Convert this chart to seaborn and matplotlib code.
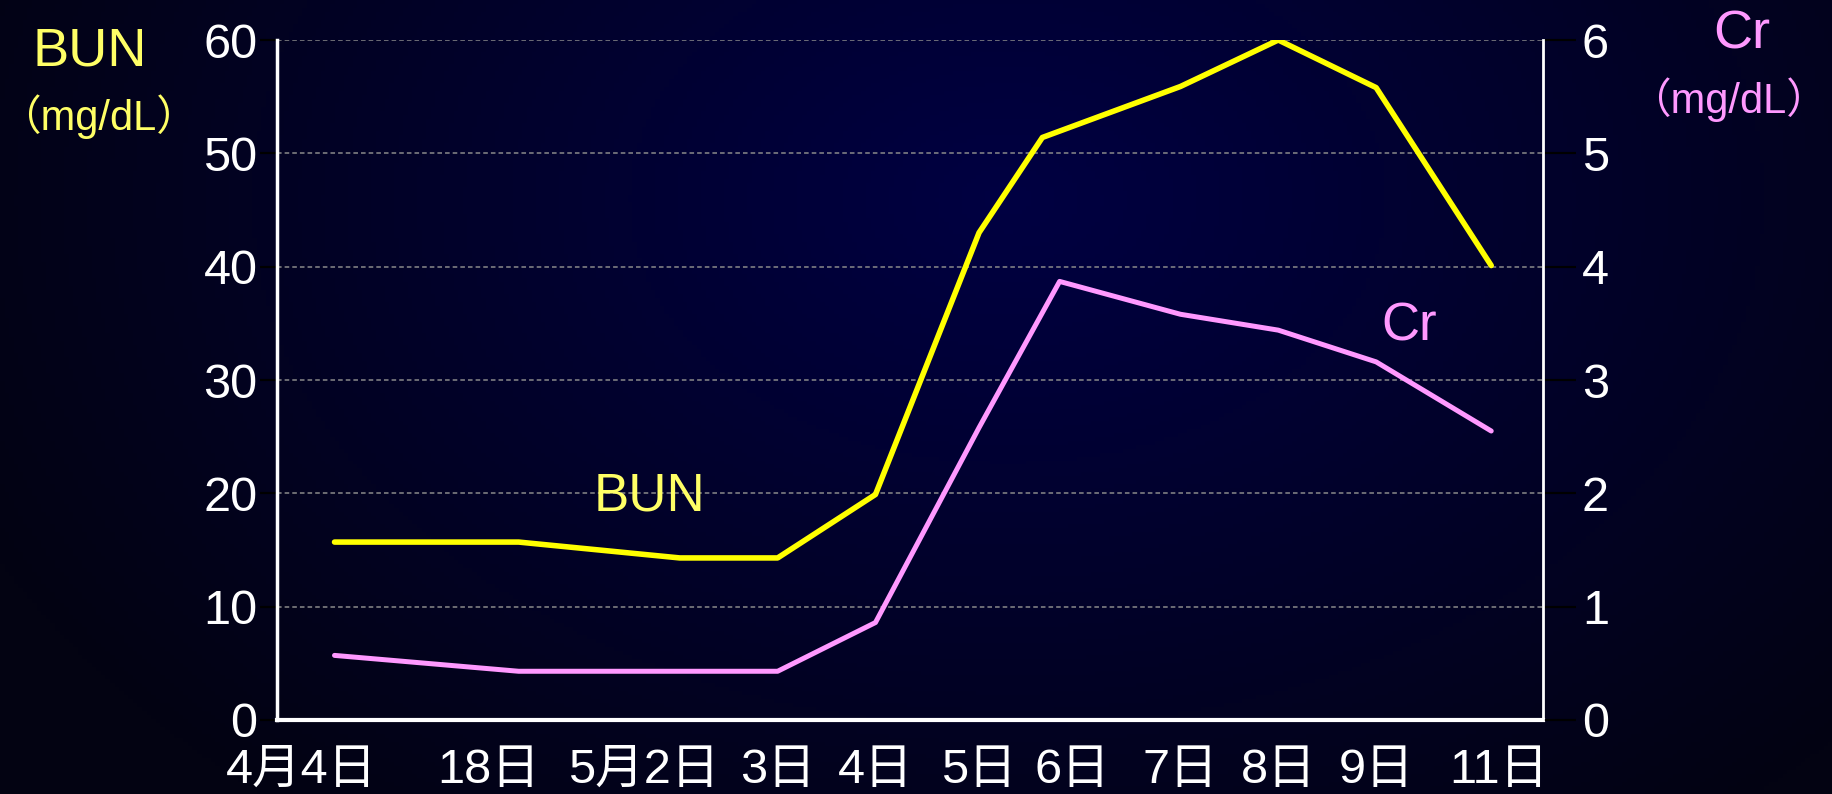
import numpy as np
import pandas as pd
import matplotlib
matplotlib.use("Agg")
import matplotlib.pyplot as plt
import matplotlib.transforms as mtransforms
import seaborn as sns

# x labels (dates) and series values
dates = ['4月4日', '18日', '5月2日', '3日', '4日', '5日', '6日', '7日', '8日', '9日', '11日']
bun_x = [0, 1.6, 3.0, 3.85, 4.7, 5.6, 6.15, 7.35, 8.2, 9.05, 10.05]
cr_x = [0, 1.6, 3.0, 3.85, 4.7, 5.6, 6.3, 7.35, 8.2, 9.05, 10.05]
bun = [15.7, 15.7, 14.3, 14.3, 19.9, 43.0, 51.4, 55.9, 60.0, 55.8, 40.1]
cr = [0.57, 0.43, 0.43, 0.43, 0.86, 2.58, 3.87, 3.58, 3.44, 3.16, 2.55]
bun_ticks = [0, 10, 20, 30, 40, 50, 60]
cr_ticks = [0, 1, 2, 3, 4, 5, 6]

df_bun = pd.DataFrame({'x': bun_x, 'BUN': bun})
df_cr = pd.DataFrame({'x': cr_x, 'Cr': cr})

sns.set_style('ticks')
plt.rcParams['font.family'] = ['Liberation Sans', 'Noto Sans CJK JP', 'DejaVu Sans']

YELLOW = '#FFFF00'
YELLOW_TXT = '#FFFF66'
PINK = '#FF99FF'

fig = plt.figure(figsize=(18.33, 7.94), dpi=100)

# dark navy gradient background
bg = fig.add_axes([0, 0, 1, 1], zorder=-10)
gx, gy = np.meshgrid(np.linspace(0, 1, 400), np.linspace(0, 1, 200))
t = np.sqrt(((gx - 0.55) / 0.62) ** 2 + ((gy - 0.25) / 1.0) ** 2)
t = np.clip(t, 0, 1)
center = np.array([0, 0, 0x42]) / 255
edge = np.array([0x03, 0x03, 0x12]) / 255
img = center[None, None, :] * (1 - t[..., None]) + edge[None, None, :] * t[..., None]
bg.imshow(img, aspect='auto', extent=[0, 1, 0, 1], origin='upper')
bg.axis('off')

ax = fig.add_axes([0.1511, 0.0932, 0.6907, 0.8564])
ax.set_facecolor('none')
ax2 = ax.twinx()
ax2.set_facecolor('none')

sns.lineplot(data=df_bun, x='x', y='BUN', ax=ax, color=YELLOW, linewidth=4, sort=False)
sns.lineplot(data=df_cr, x='x', y='Cr', ax=ax2, color=PINK, linewidth=3.6, sort=False)

ax.set_xlim(-0.5, 10.5)
ax.set_ylim(0, 60)
ax2.set_ylim(0, 6)
ax.set_yticks(bun_ticks)
ax2.set_yticks(cr_ticks)
ax.set_xticks(bun_x)
ax.set_xticklabels(dates)
ax.set_xlabel('')
ax.set_ylabel('')
ax2.set_ylabel('')

ax.yaxis.grid(True, color='#8a8a8a', linestyle=(0, (3, 2)), linewidth=1.1)
ax.xaxis.grid(False)

ax.tick_params(axis='x', length=0, pad=20, labelsize=35, colors='white')
ax.tick_params(axis='y', length=12, width=1.5, color='black', pad=2, labelsize=35, labelcolor='white')
ax2.tick_params(axis='y', length=24, width=1.5, color='black', pad=4, labelsize=35, labelcolor='white')

# nudge a few date labels to where they sit in the original
shifts = {0: -0.33, 1: -0.3, 2: -0.36, 6: 0.3, 10: 0.08}
for i, lbl in enumerate(ax.get_xticklabels()):
    dx = shifts.get(i, 0)
    if dx:
        lbl.set_transform(lbl.get_transform() + mtransforms.ScaledTranslation(dx, 0, fig.dpi_scale_trans))

for s in ['top', 'right']:
    ax.spines[s].set_visible(False)
ax.spines['left'].set_color('white')
ax.spines['left'].set_linewidth(2.5)
ax.spines['bottom'].set_color('white')
ax.spines['bottom'].set_linewidth(3)
for s in ['top', 'left', 'bottom']:
    ax2.spines[s].set_visible(False)
ax2.spines['right'].set_color('white')
ax2.spines['right'].set_linewidth(2)

# axis titles
fig.text(0.049, 0.935, 'BUN', color=YELLOW_TXT, fontsize=39, ha='center', va='center')
fig.text(0.0535, 0.853, '（mg/dL）', color=YELLOW_TXT, fontsize=30, ha='center', va='center')
fig.text(0.950, 0.956, 'Cr', color=PINK, fontsize=39, ha='center', va='center')
fig.text(0.943, 0.875, '（mg/dL）', color=PINK, fontsize=30, ha='center', va='center')

# inline series labels
ax.text(0.294, 0.328, 'BUN', transform=ax.transAxes, color=YELLOW_TXT, fontsize=38, ha='center', va='center')
ax.text(0.894, 0.578, 'Cr', transform=ax.transAxes, color=PINK, fontsize=38, ha='center', va='center')

fig.savefig('out.png', dpi=100)
